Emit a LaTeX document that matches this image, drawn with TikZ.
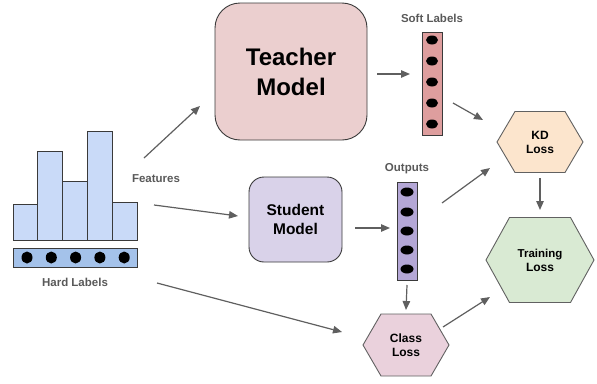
\documentclass[tikz,border=0pt]{standalone}
\usepackage{fontspec}
\setmainfont{Liberation Sans}
\usetikzlibrary{arrows.meta,calc}

\definecolor{edge}{HTML}{3A3A3A}
\definecolor{arrowgray}{HTML}{5F5F5F}
\definecolor{labelgray}{HTML}{595959}
\definecolor{barblue}{HTML}{C9DAF8}
\definecolor{rowblue}{HTML}{A4C2EA}
\definecolor{teacherfill}{HTML}{EBCFCF}
\definecolor{softfill}{HTML}{DE9E9E}
\definecolor{studentfill}{HTML}{D9D2E9}
\definecolor{outfill}{HTML}{B4A7D6}
\definecolor{kdfill}{HTML}{FCE5CD}
\definecolor{trainfill}{HTML}{D9EAD3}
\definecolor{classfill}{HTML}{EAD1DC}

\tikzset{
  box/.style={draw=edge, line width=0.9pt},
  bar/.style={box, fill=barblue, minimum width=24.8pt, inner sep=0pt, anchor=south},
  vec/.style={box, minimum width=20pt, inner sep=0pt},
  dot/.style={fill=black},
  arr/.style={draw=arrowgray, line width=1.2pt, -{Triangle[length=9pt,width=7.5pt]}},
  caption/.style={text=labelgray, font=\bfseries\fontsize{11.5}{13}\selectfont},
  losstext/.style={align=center, inner sep=0pt, font=\bfseries\fontsize{12}{14}\selectfont},
  hexline/.style={draw=edge!80, line width=0.9pt},
}

% hexagon with flat top and bottom: name, x, y, half width, half height, half top edge, fill, text
\newcommand\hexnode[8]{%
  \draw[hexline, fill=#7] (#2-#4,#3) -- (#2-#6,#3-#5) -- (#2+#6,#3-#5)
     -- (#2+#4,#3) -- (#2+#6,#3+#5) -- (#2-#6,#3+#5) -- cycle;
  \node[losstext] (#1) at (#2,#3) {#8};}

\begin{document}
\begin{tikzpicture}[x=1pt,y=-1pt]
\useasboundingbox (0,0) rectangle (597,383);

% histogram of features
\node[bar, minimum height=36pt]  (bar1) at (25.4,241) {};
\node[bar, minimum height=89pt]  (bar2) at (50.2,241) {};
\node[bar, minimum height=59pt]  (bar3) at (75.0,241) {};
\node[bar, minimum height=109pt] (bar4) at (99.8,241) {};
\node[bar, minimum height=38pt]  (bar5) at (124.6,241) {};

% one-hot hard label row
\node[box, fill=rowblue, minimum width=124pt, minimum height=19pt, inner sep=0pt] (hard) at (75,257.5) {};
\foreach \i in {0,...,4}
  \fill[dot] ($(hard)+(-48+24.3*\i,0)$) ellipse [x radius=5.5pt, y radius=6pt];
\node[caption] (hardtxt) at (75,282) {Hard Labels};
\node[caption] (feat) at (156,179) {Features};

% teacher
\node[box, fill=teacherfill, rounded corners=25pt, minimum width=152pt, minimum height=137pt,
      align=center, font=\bfseries\fontsize{24}{30}\selectfont] (teacher) at (291,71.5) {Teacher\\Model};

% soft labels vector
\node[vec, fill=softfill, minimum height=103pt] (soft) at (432,83.5) {};
\foreach \y in {40,61,82,103,124}
  \fill[dot] (432,\y) ellipse [x radius=6pt, y radius=4.5pt];
\node[caption] (softtxt) at (432,18) {Soft Labels};

% student
\node[box, fill=studentfill, rounded corners=15pt, minimum width=93pt, minimum height=85pt,
      align=center, font=\bfseries\fontsize{15.5}{18.5}\selectfont] (student) at (295.5,219.5) {Student\\Model};

% student outputs vector
\node[vec, fill=outfill, minimum height=98pt] (outcol) at (407,231) {};
\foreach \y in {192,212,231,250,269}
  \fill[dot] (407,\y) ellipse [x radius=6.5pt, y radius=4.5pt];
\node[caption] (outtxt) at (407,169) {Outputs};

% losses
\hexnode{kd}{540}{142}{43}{30.5}{25}{kdfill}{KD\\Loss}
\hexnode{train}{540}{260}{54}{42.5}{30.5}{trainfill}{\fontsize{11.5}{13}\selectfont Training\\Loss}
\hexnode{classl}{406}{345}{43}{31}{25}{classfill}{Class\\Loss}

% connectors
\draw[arr] ($(feat)+(-12,-21)$) -- ($(teacher)+(-91,34.5)$);
\draw[arr] ($(feat)+(-2,26)$) -- ($(student)+(-57.5,-3.5)$);
\draw[arr] ($(hardtxt)+(82,1)$) -- ($(classl)+(-64,-13)$);
\draw[arr] ($(teacher)+(86,2.5)$) -- ($(soft)+(-22,-9.5)$);
\draw[arr] ($(student)+(59.5,8.5)$) -- ($(outcol)+(-17,-3)$);
\draw[arr] ($(soft)+(21,19.5)$) -- ($(kd)+(-57,-22)$);
\draw[arr] ($(outcol)+(35,-28)$) -- ($(kd)+(-50,26)$);
\draw[arr] ($(kd)+(0,36)$) -- ($(train)+(0,-50)$);
\draw[arr] ($(outcol)+(0,54)$) -- ($(classl)+(0,-35)$);
\draw[arr] ($(classl)+(37,-18)$) -- ($(train)+(-50,37)$);
\end{tikzpicture}
\end{document}
